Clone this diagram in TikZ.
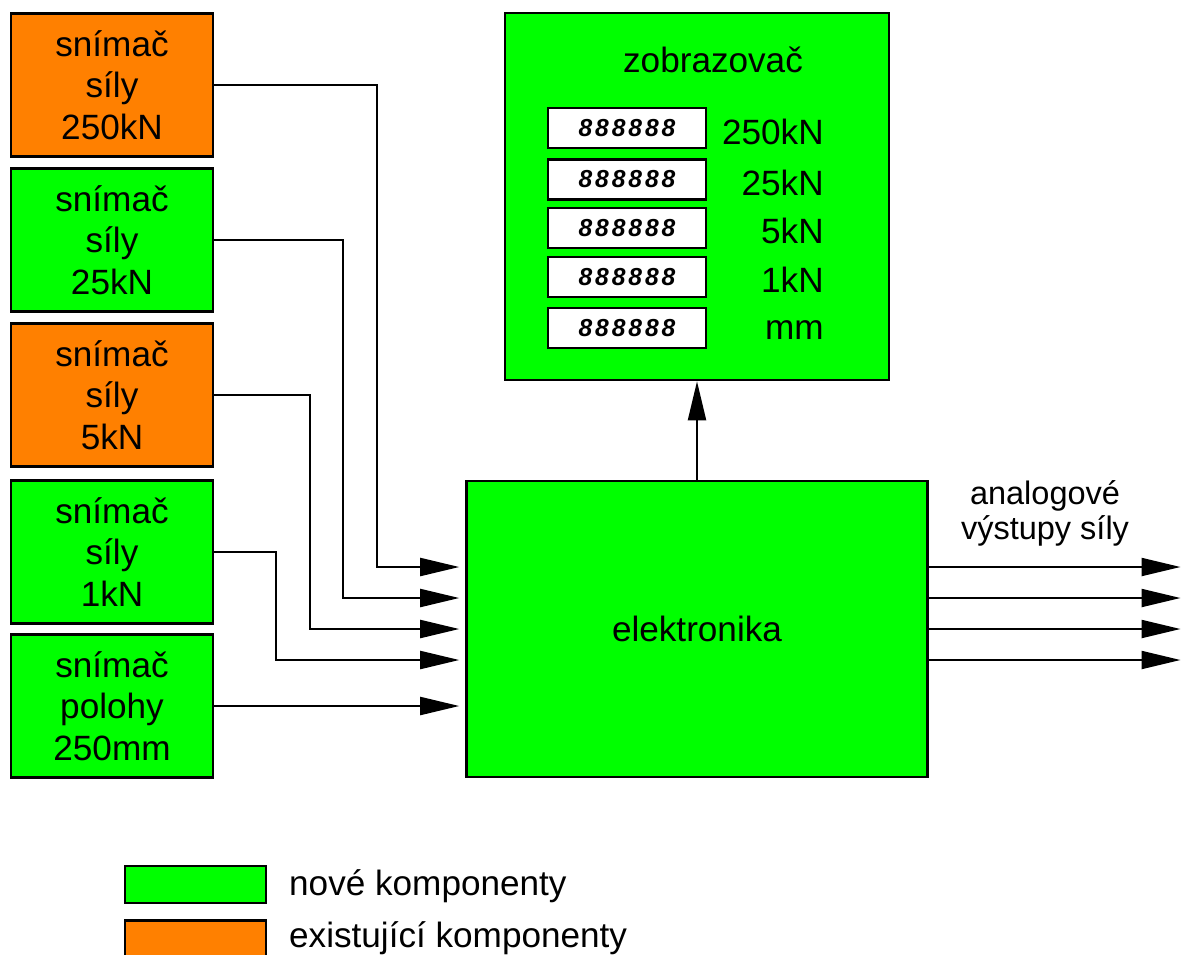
\documentclass[tikz,border=0pt]{standalone}
\usepackage{fontspec}
\setmainfont{Liberation Sans}
\usetikzlibrary{arrows.meta}
\definecolor{novagreen}{RGB}{0,255,0}
\definecolor{staraorange}{RGB}{255,128,0}
\tikzset{
  sensor/.style={draw, line width=1.5pt, minimum width=4.04cm, minimum height=2.86cm,
    inner sep=0pt, align=center, font=\fontsize{20}{23.5}\selectfont},
  display/.style={draw, fill=white, line width=1.2pt, minimum width=3.16cm, minimum height=0.8cm,
    inner sep=0pt, font=\fontsize{14}{14}\selectfont\bfseries\itshape\addfontfeature{LetterSpace=12}},
  unit/.style={anchor=east, inner sep=0pt, font=\fontsize{20}{24}\selectfont},
  legbox/.style={draw, line width=1.5pt, minimum width=2.82cm, minimum height=0.74cm, inner sep=0pt},
  wire/.style={line width=1.2pt, -{Triangle[length=0.78cm, width=0.36cm]}, shorten >=0.12cm}
}
\begin{document}
\begin{tikzpicture}[x=0.02cm, y=-0.02cm]
        \useasboundingbox (0,0) rectangle (1183,954);

        % snimace
        \node[sensor, fill=staraorange] (s250) at (112,85)  {snímač\\síly\\250kN};
        \node[sensor, fill=novagreen]   (s25)  at (112,240) {snímač\\síly\\25kN};
        \node[sensor, fill=staraorange] (s5)   at (112,395) {snímač\\síly\\5kN};
        \node[sensor, fill=novagreen]   (s1)   at (112,552) {snímač\\síly\\1kN};
        \node[sensor, fill=novagreen]   (spol) at (112,706) {snímač\\polohy\\250mm};

        % elektronika
        \node[draw, line width=1.5pt, fill=novagreen, minimum width=9.22cm, minimum height=5.92cm,
              font=\fontsize{20}{24}\selectfont] (elek) at (697,629) {elektronika};

        % zobrazovac
        \node[draw, line width=1.5pt, fill=novagreen, minimum width=7.68cm, minimum height=7.34cm] (zobr) at (697,196.5) {};
        \node[font=\fontsize{20}{24}\selectfont] (zobrtxt) at (713,60) {zobrazovač};

        \node[display] (d250) at (627,128)   {888888};
        \node[display] (d25)  at (627,179.5) {888888};
        \node[display] (d5)   at (627,228)   {888888};
        \node[display] (d1)   at (627,277)   {888888};
        \node[display] (dmm)  at (627,328)   {888888};
        \node[unit] (u250) at (824,132) {250kN};
        \node[unit] (u25)  at (824,183) {25kN};
        \node[unit] (u5)   at (824,231) {5kN};
        \node[unit] (u1)   at (824,280) {1kN};
        \node[unit] (umm)  at (824,330) {mm};

        % vstupy
        \coordinate (k250) at (377,567);
        \coordinate (k25)  at (343,598);
        \coordinate (k5)   at (310,629);
        \coordinate (k1)   at (276,660);
        \draw[wire] (s250.east) -| (k250) -- (elek.west |- k250);
        \draw[wire] (s25.east)  -| (k25)  -- (elek.west |- k25);
        \draw[wire] (s5.east)   -| (k5)   -- (elek.west |- k5);
        \draw[wire] (s1.east)   -| (k1)   -- (elek.west |- k1);
        \draw[wire] (spol.east) -- (elek.west |- spol.east);

        \draw[wire, shorten >=0pt] (elek.north) -- (zobr.south);

        % vystupy
        \node[align=center, font=\fontsize{18.5}{20}\selectfont] (vyst) at (1045,513) {analogové\\výstupy síly};
        \foreach \n/\y in {1/567, 2/598, 3/629, 4/660} {
            \coordinate (out\n) at (1183,\y);
            \draw[wire, shorten >=0.05cm] (elek.east |- out\n) -- (out\n);
        }

        % legenda
        \node[legbox, fill=novagreen]   (lnew) at (195.5,884.5) {};
        \node[legbox, fill=staraorange] (lold) at (195.5,939)   {};
        \node[anchor=west, font=\fontsize{20}{24}\selectfont] (tnew) at (283,886) {nové komponenty};
        \node[anchor=west, font=\fontsize{20}{24}\selectfont] (told) at (283,938) {existující komponenty};

    \end{tikzpicture}
\end{document}
